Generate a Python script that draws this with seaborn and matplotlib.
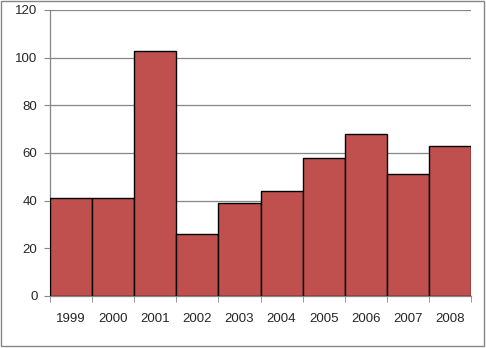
import matplotlib
matplotlib.use("Agg")
import matplotlib.pyplot as plt
import seaborn as sns
import pandas as pd
from matplotlib.patches import Rectangle

years = ["1999", "2000", "2001", "2002", "2003", "2004", "2005", "2006", "2007", "2008"]
values = [41, 41, 103, 26, 39, 44, 58, 68, 51, 63]
y_ticks = [0, 20, 40, 60, 80, 100, 120]

df = pd.DataFrame({"year": years, "value": values})

sns.set_style("white")
plt.rcParams['font.family'] = ['Liberation Sans', 'DejaVu Sans']

fig = plt.figure(figsize=(4.86, 3.48), dpi=100)
ax = fig.add_axes([50/486, 52/348, 421/486, 286/348])

sns.barplot(data=df, x="year", y="value", color="#C0504D", width=1.0,
            edgecolor="black", linewidth=1.0, saturation=1, ax=ax, zorder=3)

ax.set_xlim(-0.5, len(years) - 0.5)
ax.set_ylim(0, 120)
ax.set_yticks(y_ticks)
ax.set_yticklabels([str(t) for t in y_ticks], fontsize=9.5)
ax.yaxis.grid(True, color="#868686", linewidth=0.9, zorder=0)
ax.set_axisbelow(True)
ax.set_xlabel("")
ax.set_ylabel("")

ax.set_xticks(range(len(years)))
ax.set_xticklabels(years, fontsize=9.5)
ax.set_xticks([i - 0.5 for i in range(len(years) + 1)], minor=True)
ax.tick_params(axis="x", which="major", length=0, pad=12)
ax.tick_params(axis="x", which="minor", length=4, color="#868686", direction="out", bottom=True)
ax.tick_params(axis="y", length=4, color="#868686", direction="out", left=True, pad=5)

for s in ["top", "right"]:
    ax.spines[s].set_visible(False)
for s in ["left", "bottom"]:
    ax.spines[s].set_color("#868686")
    ax.spines[s].set_linewidth(0.9)

fig.patches.append(Rectangle((1/486, 2/348), 483/486, 345/348, transform=fig.transFigure,
                             fill=False, edgecolor="#868686", linewidth=1.0))

fig.savefig("out.png", dpi=100)
